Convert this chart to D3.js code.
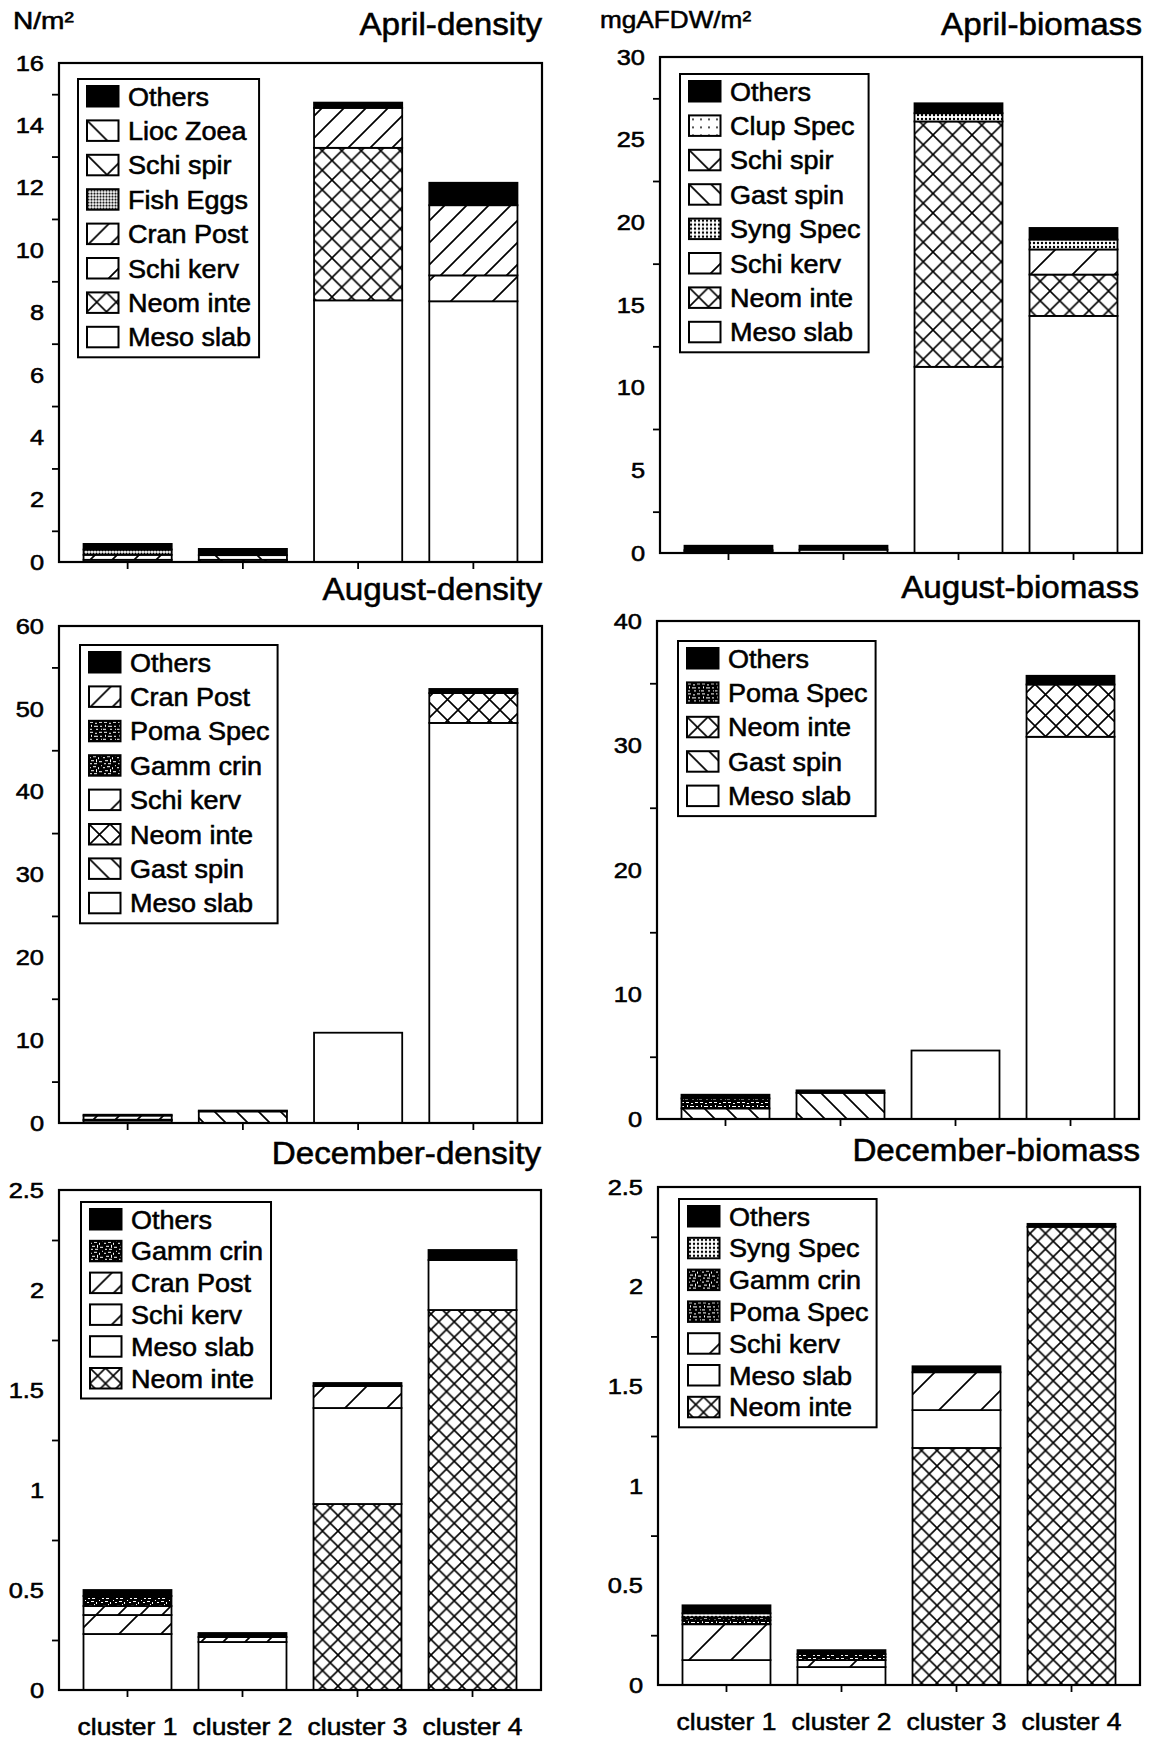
<!DOCTYPE html>
<html><head><meta charset="utf-8">
<script src="https://cdn.jsdelivr.net/npm/d3@7"></script>
<style>
html,body{margin:0;padding:0;background:#fff;}
svg{display:block;}
text{font-family:"Liberation Sans",Arial,Helvetica,sans-serif;fill:#000;stroke:#000;stroke-width:0.55px;}
</style>
</head><body>
<svg id="chart" width="1150" height="1741"></svg>
<script>
// ---------------- DATA ----------------
const clusters = ["cluster 1", "cluster 2", "cluster 3", "cluster 4"];

// April – density (N/m²); species listed as in legend (top of stack first), values for clusters 1-4
const aprDenSpecies = ["Others", "Lioc Zoea", "Schi spir", "Fish Eggs", "Cran Post", "Schi kerv", "Neom inte", "Meso slab"];
const aprDenValues = [
  [0.18, 0.20, 0.17, 0.72],
  [0.00, 0.15, 0.00, 0.00],
  [0.00, 0.00, 0.00, 0.00],
  [0.17, 0.00, 0.00, 0.00],
  [0.16, 0.07, 1.28, 2.25],
  [0.00, 0.00, 0.00, 0.83],
  [0.00, 0.00, 4.89, 0.00],
  [0.07, 0.00, 8.39, 8.36]
];
const aprDenTicks = [0, 2, 4, 6, 8, 10, 12, 14, 16];
const aprDenMinor = [1, 3, 5, 7, 9, 11, 13, 15];

// April – biomass (mgAFDW/m²)
const aprBioSpecies = ["Others", "Clup Spec", "Schi spir", "Gast spin", "Syng Spec", "Schi kerv", "Neom inte", "Meso slab"];
const aprBioValues = [
  [0.26, 0.24, 0.60, 0.70],
  [0.08, 0.00, 0.00, 0.00],
  [0.00, 0.00, 0.00, 0.00],
  [0.00, 0.00, 0.00, 0.00],
  [0.10, 0.00, 0.50, 0.60],
  [0.00, 0.00, 0.00, 1.52],
  [0.00, 0.00, 14.84, 2.50],
  [0.00, 0.20, 11.26, 14.34]
];
const aprBioTicks = [0, 5, 10, 15, 20, 25, 30];
const aprBioMinor = [2.5, 7.5, 12.5, 17.5, 22.5, 27.5];

// August – density
const augDenSpecies = ["Others", "Cran Post", "Poma Spec", "Gamm crin", "Schi kerv", "Neom inte", "Gast spin", "Meso slab"];
const augDenValues = [
  [0.10, 0.10, 0.00, 0.50],
  [0.50, 0.00, 0.00, 0.00],
  [0.00, 0.00, 0.00, 0.00],
  [0.00, 0.00, 0.00, 0.00],
  [0.00, 0.00, 0.00, 0.00],
  [0.00, 0.00, 0.00, 3.60],
  [0.10, 1.40, 0.00, 0.00],
  [0.30, 0.00, 10.90, 48.30]
];
const augDenTicks = [0, 10, 20, 30, 40, 50, 60];
const augDenMinor = [5, 15, 25, 35, 45, 55];

// August – biomass
const augBioSpecies = ["Others", "Poma Spec", "Neom inte", "Gast spin", "Meso slab"];
const augBioValues = [
  [0.30, 0.20, 0.00, 0.70],
  [0.80, 0.00, 0.00, 0.00],
  [0.00, 0.00, 0.00, 4.20],
  [0.85, 2.10, 0.00, 0.00],
  [0.00, 0.00, 5.50, 30.70]
];
const augBioTicks = [0, 10, 20, 30, 40];
const augBioMinor = [5, 15, 25, 35];

// December – density
const decDenSpecies = ["Others", "Gamm crin", "Cran Post", "Schi kerv", "Meso slab", "Neom inte"];
const decDenValues = [
  [0.030, 0.020, 0.015, 0.050],
  [0.050, 0.000, 0.000, 0.000],
  [0.045, 0.025, 0.000, 0.000],
  [0.095, 0.000, 0.110, 0.000],
  [0.280, 0.240, 0.480, 0.250],
  [0.000, 0.000, 0.930, 1.900]
];
const decDenTicks = [0, 0.5, 1, 1.5, 2, 2.5];
const decDenMinor = [0.25, 0.75, 1.25, 1.75, 2.25];

// December – biomass
const decBioSpecies = ["Others", "Syng Spec", "Gamm crin", "Poma Spec", "Schi kerv", "Meso slab", "Neom inte"];
const decBioValues = [
  [0.040, 0.020, 0.030, 0.015],
  [0.020, 0.000, 0.000, 0.000],
  [0.015, 0.015, 0.000, 0.000],
  [0.020, 0.015, 0.000, 0.000],
  [0.180, 0.035, 0.190, 0.000],
  [0.125, 0.090, 0.190, 0.000],
  [0.000, 0.000, 1.190, 2.300]
];
const decBioTicks = [0, 0.5, 1, 1.5, 2, 2.5];
const decBioMinor = [0.25, 0.75, 1.25, 1.75, 2.25];

// ---------------- LAYOUT ----------------
const panels = [
  {title: "April-density",    species: aprDenSpecies, values: aprDenValues, ticks: aprDenTicks, minor: aprDenMinor,
   x: 59,  y: 63,   w: 483, h: 499, titleY: 35,   lx: 19, ly: 16, rowH: 34.4, cross: 19.5, labels: false},
  {title: "April-biomass",    species: aprBioSpecies, values: aprBioValues, ticks: aprBioTicks, minor: aprBioMinor,
   x: 660, y: 57,   w: 482, h: 496, titleY: 35,   lx: 20, ly: 17, rowH: 34.4, cross: 19.5, labels: false},
  {title: "August-density",   species: augDenSpecies, values: augDenValues, ticks: augDenTicks, minor: augDenMinor,
   x: 59,  y: 626,  w: 483, h: 497, titleY: 600,  lx: 21, ly: 19, rowH: 34.4, cross: 21, labels: false},
  {title: "August-biomass",   species: augBioSpecies, values: augBioValues, ticks: augBioTicks, minor: augBioMinor,
   x: 657, y: 621,  w: 482, h: 498, titleY: 598,  lx: 21, ly: 20, rowH: 34.4, cross: 21, labels: false},
  {title: "December-density", species: decDenSpecies, values: decDenValues, ticks: decDenTicks, minor: decDenMinor,
   x: 59,  y: 1190, w: 482, h: 500, titleY: 1164, lx: 22, ly: 12, rowH: 31.8, cross: 15.5, labels: true},
  {title: "December-biomass", species: decBioSpecies, values: decBioValues, ticks: decBioTicks, minor: decBioMinor,
   x: 658, y: 1187, w: 482, h: 498, titleY: 1161, lx: 21, ly: 12, rowH: 31.8, cross: 15.5, labels: true}
];

const STRETCH = 1.13;
function stretch(sel, k) {
  sel.each(function () {
    const w = this.getComputedTextLength();
    if (w > 0) {
      this.setAttribute("textLength", (w * k).toFixed(2));
      this.setAttribute("lengthAdjust", "spacingAndGlyphs");
    }
  });
}

const svg = d3.select("#chart");
svg.append("rect").attr("width", 1150).attr("height", 1741).attr("fill", "#fff");
const defs = svg.append("defs");

// ---------------- PATTERNS ----------------
function hatch(id, p, dirs, sw) {
  const pat = defs.append("pattern").attr("id", id).attr("patternUnits", "userSpaceOnUse")
    .attr("width", p).attr("height", p);
  pat.append("rect").attr("width", p).attr("height", p).attr("fill", "#fff");
  let d = "";
  if (dirs.includes("f")) d += `M${-p/2},${p/2} L${p/2},${-p/2} M0,${p} L${p},0 M${p/2},${p*1.5} L${p*1.5},${p/2} `;
  if (dirs.includes("b")) d += `M${-p/2},${p/2} L${p/2},${p*1.5} M0,0 L${p},${p} M${p/2},${-p/2} L${p*1.5},${p/2} `;
  pat.append("path").attr("d", d).attr("stroke", "#000").attr("stroke-width", sw).attr("fill", "none");
}
function dots(id, p, r) {
  const pat = defs.append("pattern").attr("id", id).attr("patternUnits", "userSpaceOnUse")
    .attr("width", p).attr("height", p);
  pat.append("rect").attr("width", p).attr("height", p).attr("fill", "#fff");
  pat.append("circle").attr("cx", p / 2).attr("cy", p / 2).attr("r", r).attr("fill", "#000");
}
function noise(id, bits) {
  const pat = defs.append("pattern").attr("id", id).attr("patternUnits", "userSpaceOnUse")
    .attr("width", 14).attr("height", 10);
  pat.append("rect").attr("width", 14).attr("height", 10).attr("fill", "#000");
  bits.forEach(b => pat.append("rect").attr("x", b[0]).attr("y", b[1]).attr("width", b[2]).attr("height", b[3]).attr("fill", "#fff"));
}
hatch("cranPost", 22, "f", 1.7);
hatch("schiKerv", 42, "f", 1.7);
hatch("gastSpin", 22, "b", 1.7);
hatch("liocZoea", 42, "b", 1.7);
hatch("schiSpir", 40, "fb", 1.7);
dots("fishEggs", 3, 1.1);
dots("syngSpec", 4, 1.2);
dots("clupSpec", 8, 0.9);
noise("pomaSpec", [[1,1,3,1],[6,2,2,1],[10,1,3,1],[2,4,1,2],[5,5,4,1],[11,5,2,1],[0,8,3,1],[7,8,2,1],[12,8,1,1]]);
noise("gammCrin", [[0,2,2,1],[4,1,3,1],[9,2,1,2],[12,0,1,1],[2,5,3,1],[7,4,1,3],[10,6,3,1],[1,8,2,1],[5,8,3,1]]);
panels.forEach((P, i) => hatch("neom" + i, P.cross, "fb", 1.6));

function fillFor(sp, i) {
  switch (sp) {
    case "Others": return "#000";
    case "Meso slab": return "#fff";
    case "Neom inte": return "url(#neom" + i + ")";
    case "Cran Post": return "url(#cranPost)";
    case "Schi kerv": return "url(#schiKerv)";
    case "Gast spin": return "url(#gastSpin)";
    case "Lioc Zoea": return "url(#liocZoea)";
    case "Schi spir": return "url(#schiSpir)";
    case "Fish Eggs": return "url(#fishEggs)";
    case "Syng Spec": return "url(#syngSpec)";
    case "Clup Spec": return "url(#clupSpec)";
    case "Poma Spec": return "url(#pomaSpec)";
    case "Gamm crin": return "url(#gammCrin)";
  }
  return "#fff";
}

// ---------------- PANELS ----------------
panels.forEach((P, pi) => {
  const g = svg.append("g").attr("transform", `translate(${P.x},${P.y})`);
  const x = d3.scaleBand().domain(clusters).range([0, P.w]).paddingInner(0.235).paddingOuter(0.213);
  const y = d3.scaleLinear().domain([0, P.ticks[P.ticks.length - 1]]).range([P.h, 0]);

  const keys = P.species.slice().reverse();
  const rows = clusters.map((c, ci) => {
    const o = {cluster: c};
    P.species.forEach((s, si) => { o[s] = P.values[si][ci]; });
    return o;
  });
  const series = d3.stack().keys(keys)(rows);

  series.forEach(layer => {
    g.append("g").selectAll("rect")
      .data(layer.filter(d => d[1] - d[0] > 0))
      .join("rect")
      .attr("x", d => x(d.data.cluster))
      .attr("y", d => y(d[1]))
      .attr("width", x.bandwidth())
      .attr("height", d => y(d[0]) - y(d[1]))
      .attr("fill", fillFor(layer.key, pi))
      .attr("stroke", "#000")
      .attr("stroke-width", 1.8);
  });

  // frame
  g.append("rect").attr("width", P.w).attr("height", P.h)
    .attr("fill", "none").attr("stroke", "#000").attr("stroke-width", 2.2);

  // y axis labels
  const yl = g.append("g").call(d3.axisLeft(y).tickValues(P.ticks).tickSize(0).tickPadding(15)
      .tickFormat(d3.format("")));
  yl.select(".domain").remove();
  yl.selectAll("text").attr("font-size", 22.5).style("font-family", '"Liberation Sans",Arial,sans-serif');
  stretch(yl.selectAll("text"), STRETCH);
  // minor ticks
  const ym = g.append("g").call(d3.axisLeft(y).tickValues(P.minor).tickSize(7).tickFormat(""));
  ym.select(".domain").remove();
  ym.selectAll("line").attr("stroke", "#000").attr("stroke-width", 1.8);

  // x ticks
  const xa = g.append("g").attr("transform", `translate(0,${P.h})`)
    .call(d3.axisBottom(x).tickSize(7).tickFormat(""));
  xa.select(".domain").remove();
  xa.selectAll("line").attr("stroke", "#000").attr("stroke-width", 1.8);

  if (P.labels) {
    const xl = g.append("g").selectAll("text").data(clusters).join("text")
      .attr("x", d => x(d) + x.bandwidth() / 2)
      .attr("y", P.h + 45)
      .attr("text-anchor", "middle")
      .attr("font-size", 24)
      .text(d => d);
    stretch(xl, 1.1);
  }

  // title
  const t = svg.append("text").attr("x", P.x + P.w).attr("y", P.titleY)
    .attr("text-anchor", "end").attr("font-size", 31).text(P.title);
  stretch(t, 1.07);

  // legend
  const lg = g.append("g").attr("transform", `translate(${P.lx},${P.ly})`);
  const box = lg.append("rect").attr("fill", "#fff").attr("stroke", "#000").attr("stroke-width", 2);
  const items = lg.selectAll("g.item").data(P.species).join("g").attr("class", "item")
    .attr("transform", (d, i) => `translate(9,${7 + i * P.rowH})`);
  items.append("rect").attr("width", 31.5).attr("height", 20.5)
    .attr("fill", d => fillFor(d, pi)).attr("stroke", "#000").attr("stroke-width", 2);
  const lt = items.append("text").attr("x", 41).attr("y", 19.5).attr("font-size", 25).text(d => d);
  let maxW = 0;
  lt.each(function () { maxW = Math.max(maxW, this.getComputedTextLength() * 1.08); });
  stretch(lt, 1.08);
  box.attr("width", 50 + maxW + 8).attr("height", 7 + (P.species.length - 1) * P.rowH + 20.5 + 10);
});

// unit labels
const u1 = svg.append("text").attr("x", 13).attr("y", 29).attr("font-size", 24).text("N/m²");
const u2 = svg.append("text").attr("x", 600).attr("y", 28).attr("font-size", 24).text("mgAFDW/m²");
stretch(u1, 1.17);
stretch(u2, 1.09);
</script>
</body></html>
